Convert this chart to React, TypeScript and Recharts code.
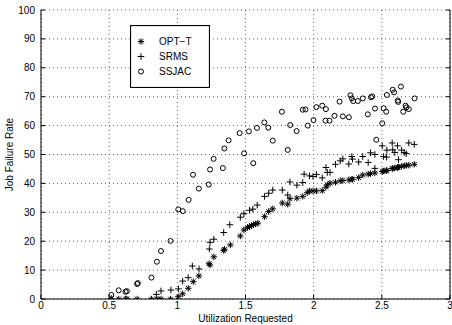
import React from 'react';
import { ScatterChart, Scatter, XAxis, YAxis, CartesianGrid, Legend, Label } from 'recharts';

const xTicks = [0, 0.5, 1, 1.5, 2, 2.5, 3];
const yTicks = [0, 10, 20, 30, 40, 50, 60, 70, 80, 90, 100];

const optT: [number, number][] = [
  [0.516, 0.2], [0.57, 0], [0.62, 0], [0.63, 0], [0.705, 0], [0.81, 0], [0.85, 0], [0.88, 0], [0.95, 0],
  [1.007, 0.8], [1.039, 1.8], [1.08, 3.7], [1.117, 6], [1.158, 8], [1.232, 12.2], [1.24, 11.8], [1.268, 14.6],
  [1.34, 16.8], [1.346, 17.2], [1.389, 18.7], [1.462, 21.8], [1.488, 23.9], [1.515, 24.7], [1.53, 25.1],
  [1.545, 25.4], [1.56, 25.7], [1.575, 26], [1.59, 26.2], [1.64, 28.5], [1.67, 30.3], [1.7, 31.2], [1.77, 33.2],
  [1.81, 32.8], [1.826, 34.7], [1.877, 34.9], [1.92, 35.5], [1.953, 36.8], [1.97, 37.4], [1.995, 37.4],
  [2.02, 37.4], [2.063, 37.5], [2.09, 38.7], [2.1, 39.5], [2.12, 40.1], [2.16, 40.4], [2.195, 40.9],
  [2.214, 41], [2.258, 41.2], [2.28, 41.5], [2.285, 41.4], [2.33, 42], [2.36, 42.9], [2.4, 43.2], [2.417, 43.4],
  [2.449, 43.6], [2.503, 44.1], [2.513, 44.3], [2.535, 44.4], [2.537, 44.5], [2.576, 45.1], [2.58, 45.2],
  [2.595, 45.3], [2.615, 45.5], [2.622, 45.6], [2.645, 45.9], [2.664, 46.1], [2.679, 46.2], [2.698, 46.3],
  [2.738, 46.6],
];

const srms: [number, number][] = [
  [0.846, 1.6], [0.88, 2.8], [0.953, 3.1], [1.008, 3.5], [1.039, 6.2], [1.08, 7.4], [1.11, 11.4], [1.159, 10.4],
  [1.235, 17.3], [1.24, 19.6], [1.268, 20.7], [1.34, 23], [1.385, 25.7], [1.462, 28.3], [1.488, 29.5],
  [1.53, 30.7], [1.554, 31.1], [1.586, 32.5], [1.64, 35.5], [1.67, 36.6], [1.7, 37.7], [1.77, 37.7], [1.81, 36],
  [1.826, 40.5], [1.877, 39.4], [1.92, 40.3], [1.93, 43.2], [1.97, 42.6], [1.995, 42.4], [2.02, 43.1],
  [2.063, 41.9], [2.09, 45.5], [2.1, 43.8], [2.12, 43.8], [2.16, 46.6], [2.195, 47.8], [2.214, 48.5],
  [2.258, 46.7], [2.28, 49.3], [2.285, 48.4], [2.33, 47.4], [2.36, 49.3], [2.4, 47.2], [2.417, 50.6],
  [2.449, 50], [2.449, 45.2], [2.503, 53], [2.513, 49.3], [2.535, 49.1], [2.537, 51.5], [2.576, 54],
  [2.58, 51.6], [2.595, 50.7], [2.615, 53], [2.622, 48.2], [2.645, 51.5], [2.664, 50.7], [2.679, 50.3],
  [2.698, 54], [2.738, 53.5],
];

const ssjac: [number, number][] = [
  [0.516, 1.4], [0.57, 3], [0.62, 2.5], [0.63, 2.7], [0.705, 5.2], [0.71, 5.5], [0.81, 7.4], [0.85, 12.9],
  [0.88, 16.6], [0.95, 20.1], [1.007, 31], [1.04, 30.4], [1.083, 34.3], [1.115, 43], [1.158, 38.2],
  [1.23, 39.6], [1.24, 44.8], [1.266, 48.5], [1.334, 45.3], [1.345, 52.1], [1.376, 54.9], [1.457, 57.4],
  [1.49, 50.4], [1.525, 58], [1.557, 47], [1.584, 59.2], [1.638, 61.1], [1.667, 59.3], [1.7, 54.8],
  [1.767, 64.8], [1.81, 51.6], [1.828, 60.2], [1.875, 58.1], [1.92, 65.5], [1.94, 65.6], [1.957, 60],
  [1.999, 61.9], [2.02, 66.4], [2.063, 66.9], [2.09, 65.7], [2.087, 61.7], [2.116, 61.7], [2.153, 63.4],
  [2.19, 68.3], [2.214, 63.2], [2.258, 62.9], [2.27, 70.5], [2.28, 69.4], [2.29, 68.5], [2.324, 68.5],
  [2.36, 69.4], [2.397, 63.9], [2.42, 69.8], [2.43, 70.1], [2.45, 65.9], [2.459, 55.1], [2.503, 60.8],
  [2.513, 66], [2.532, 64.8], [2.537, 70.6], [2.58, 72.4], [2.59, 71.5], [2.617, 68.7], [2.62, 68.2],
  [2.64, 73.5], [2.657, 64.8], [2.674, 66.9], [2.68, 66.3], [2.698, 65.7], [2.74, 69.4],
];

const seriesNames = ['OPT−T', 'SRMS', 'SSJAC'];

const FONT = '"Liberation Sans", Arial, Helvetica, sans-serif';

const toObj = (arr: [number, number][]) => arr.map(([x, y]) => ({ x, y }));

const StarMark = (props: any) => {
  const { cx, cy } = props;
  if (cx == null || cy == null) return null;
  const a = 3.2;
  const b = 2.3;
  return (
    <g stroke="#000" strokeWidth={1} fill="none">
      <line x1={cx - a} y1={cy} x2={cx + a} y2={cy} />
      <line x1={cx} y1={cy - a} x2={cx} y2={cy + a} />
      <line x1={cx - b} y1={cy - b} x2={cx + b} y2={cy + b} />
      <line x1={cx - b} y1={cy + b} x2={cx + b} y2={cy - b} />
    </g>
  );
};

const PlusMark = (props: any) => {
  const { cx, cy } = props;
  if (cx == null || cy == null) return null;
  const a = 3.3;
  return (
    <g stroke="#000" strokeWidth={1} fill="none">
      <line x1={cx - a} y1={cy} x2={cx + a} y2={cy} />
      <line x1={cx} y1={cy - a} x2={cx} y2={cy + a} />
    </g>
  );
};

const CircleMark = (props: any) => {
  const { cx, cy } = props;
  if (cx == null || cy == null) return null;
  return <circle cx={cx} cy={cy} r={2.5} stroke="#000" strokeWidth={1} fill="none" />;
};

const marks = [StarMark, PlusMark, CircleMark];

const LegendBox = () => (
  <svg width={80} height={63} style={{ display: 'block' }}>
    <rect x={0.5} y={0.5} width={79} height={62} fill="#fff" stroke="#000" strokeWidth={1.2} />
    {seriesNames.map((name, i) => {
      const M = marks[i];
      const cy = 16.5 + i * 15;
      return (
        <g key={name}>
          <M cx={11} cy={cy} />
          <text x={29} y={cy + 3.6} fontSize={10} fontFamily={FONT} fill="#000">
            {name}
          </text>
        </g>
      );
    })}
  </svg>
);

export default function App() {
  const blank = () => '';
  return (
    <div style={{ position: 'absolute', left: 0, top: 0, width: 452, height: 325, background: '#fff' }}>
      <ScatterChart width={452} height={325} margin={{ top: 10, right: 0, bottom: 0, left: 0 }}>
        <CartesianGrid xAxisId="b" yAxisId="l" stroke="#666" strokeDasharray="1 3" />
        <XAxis
          xAxisId="b"
          type="number"
          dataKey="x"
          domain={[0, 3]}
          ticks={xTicks}
          allowDataOverflow
          height={26}
          tickSize={-4}
          tickMargin={7}
          axisLine={{ stroke: '#000' }}
          tickLine={{ stroke: '#000' }}
          tick={{ fontSize: 10, fill: '#000', fontFamily: FONT }}
          interval={0}
        >
          <Label
            value="Utilization Requested"
            position="insideBottom"
            offset={3}
            style={{ fontSize: 10, fill: '#000', fontFamily: FONT }}
          />
        </XAxis>
        <XAxis
          xAxisId="t"
          orientation="top"
          type="number"
          domain={[0, 3]}
          ticks={xTicks}
          allowDataOverflow
          height={0}
          tickSize={-4}
          tickFormatter={blank}
          axisLine={{ stroke: '#000' }}
          tickLine={{ stroke: '#000' }}
          interval={0}
        />
        <YAxis
          yAxisId="l"
          type="number"
          dataKey="y"
          domain={[0, 100]}
          ticks={yTicks}
          allowDataOverflow
          width={41}
          tickSize={-4}
          tickMargin={10}
          axisLine={{ stroke: '#000' }}
          tickLine={{ stroke: '#000' }}
          tick={{ fontSize: 10, fill: '#000', fontFamily: FONT }}
          interval={0}
        >
          <Label
            value="Job Failure Rate"
            angle={-90}
            position="insideLeft"
            offset={9}
            style={{ fontSize: 10, fill: '#000', fontFamily: FONT, textAnchor: 'middle' }}
          />
        </YAxis>
        <YAxis
          yAxisId="r"
          orientation="right"
          type="number"
          domain={[0, 100]}
          ticks={yTicks}
          allowDataOverflow
          width={2}
          tickSize={-4}
          tickFormatter={blank}
          axisLine={{ stroke: '#000' }}
          tickLine={{ stroke: '#000' }}
          interval={0}
        />
        <Legend
          layout="vertical"
          align="center"
          verticalAlign="middle"
          content={() => <LegendBox />}
          wrapperStyle={{ position: 'absolute', left: 130, top: 25, width: 80, height: 63, margin: 0, padding: 0 }}
        />
        <Scatter
          name={seriesNames[2]}
          data={toObj(ssjac)}
          xAxisId="b"
          yAxisId="l"
          shape={CircleMark}
          isAnimationActive={false}
        />
        <Scatter
          name={seriesNames[1]}
          data={toObj(srms)}
          xAxisId="b"
          yAxisId="l"
          shape={PlusMark}
          isAnimationActive={false}
        />
        <Scatter
          name={seriesNames[0]}
          data={toObj(optT)}
          xAxisId="b"
          yAxisId="l"
          shape={StarMark}
          isAnimationActive={false}
        />
      </ScatterChart>
    </div>
  );
}
